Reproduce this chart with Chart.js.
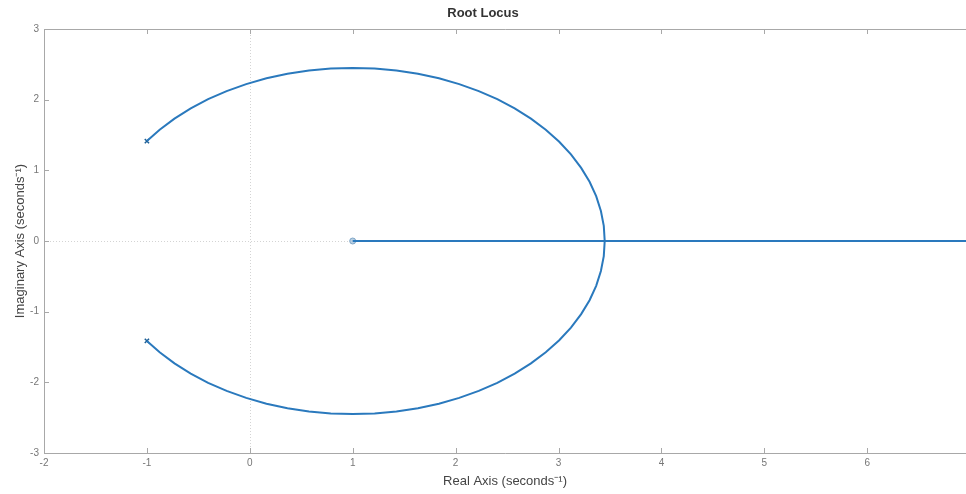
<!DOCTYPE html>
<html>
<head>
<meta charset="utf-8">
<script src="https://cdn.jsdelivr.net/npm/chart.js@4/dist/chart.umd.min.js"></script>
<style>
  html, body { margin: 0; padding: 0; background: #ffffff; }
  canvas { display: block; }
</style>
</head>
<body>
<canvas id="locus" width="966" height="494"></canvas>
<script>
// Upper branch: from the pole at -1+1.414j round to the break-in point on the real axis
const arcReal = [-1.000, -0.876, -0.732, -0.574, -0.405, -0.225, -0.035, 0.162, 0.366, 0.575, 0.787,
                 1.000, 1.213, 1.425, 1.634, 1.838, 2.035, 2.225, 2.405, 2.574, 2.732, 2.876,
                 3.007, 3.121, 3.220, 3.302, 3.366, 3.412, 3.440, 3.449];
const arcImagUpper = [1.414, 1.574, 1.732, 1.876, 2.007, 2.121, 2.220, 2.302, 2.366, 2.412, 2.440,
                      2.449, 2.440, 2.412, 2.366, 2.302, 2.220, 2.121, 2.007, 1.876, 1.732, 1.574,
                      1.405, 1.225, 1.035, 0.838, 0.634, 0.425, 0.214, 0.000];
// Lower branch: conjugate of the upper one
const arcImagLower = [-1.414, -1.574, -1.732, -1.876, -2.007, -2.121, -2.220, -2.302, -2.366, -2.412, -2.440,
                      -2.449, -2.440, -2.412, -2.366, -2.302, -2.220, -2.121, -2.007, -1.876, -1.732, -1.574,
                      -1.405, -1.225, -1.035, -0.838, -0.634, -0.425, -0.214, 0.000];
// Real-axis branches: towards the zero at 1 and out to infinity
const axisReal = [1.000, 3.449, 8.000];
const axisImag = [0, 0, 0];

// Open-loop poles and zero
const poleReal = [-1, -1];
const poleImag = [1.414, -1.414];
const zeroReal = [1];
const zeroImag = [0];

// Axis ticks
const xTickValues = [-2, -1, 0, 1, 2, 3, 4, 5, 6];
const yTickValues = [-3, -2, -1, 0, 1, 2, 3];

const toPoints = (xs, ys) => xs.map((x, i) => ({ x: x, y: ys[i] }));

const LOCUS_BLUE = '#2a79bd';

// White background, dotted zero lines, box outline and inward tick marks
const axesFrame = {
  id: 'axesFrame',
  beforeDraw(chart) {
    const ctx = chart.ctx;
    ctx.save();
    ctx.fillStyle = '#ffffff';
    ctx.fillRect(0, 0, chart.width, chart.height);
    ctx.restore();
  },
  beforeDatasetsDraw(chart) {
    const { ctx, chartArea: a, scales: { x, y } } = chart;
    ctx.save();
    ctx.strokeStyle = '#d4d4d4';
    ctx.lineWidth = 1;
    ctx.setLineDash([1, 2]);
    const px = Math.round(x.getPixelForValue(0)) + 0.5;
    const py = Math.round(y.getPixelForValue(0)) + 0.5;
    ctx.beginPath();
    ctx.moveTo(px, a.top); ctx.lineTo(px, a.bottom);
    ctx.moveTo(a.left, py); ctx.lineTo(a.right, py);
    ctx.stroke();
    ctx.restore();
  },
  afterDatasetsDraw(chart) {
    const { ctx, chartArea: a, scales: { x, y } } = chart;
    const tl = 5;
    ctx.save();
    ctx.strokeStyle = '#a8a8a8';
    ctx.lineWidth = 1;
    ctx.beginPath();
    ctx.rect(Math.round(a.left) + 0.5, Math.round(a.top) + 0.5,
             Math.round(a.right - a.left) + 4, Math.round(a.bottom - a.top));
    ctx.stroke();
    ctx.beginPath();
    xTickValues.forEach(v => {
      const px = Math.round(x.getPixelForValue(v)) + 0.5;
      if (px < a.left - 1 || px > a.right + 1) return;
      ctx.moveTo(px, a.bottom); ctx.lineTo(px, a.bottom - tl);
      ctx.moveTo(px, a.top); ctx.lineTo(px, a.top + tl);
    });
    yTickValues.forEach(v => {
      const py = Math.round(y.getPixelForValue(v)) + 0.5;
      ctx.moveTo(a.left, py); ctx.lineTo(a.left + tl, py);
    });
    ctx.stroke();
    ctx.restore();
  }
};

const tickFont = { family: 'Liberation Sans, Arial, sans-serif', size: 10 };
const titleFont = { family: 'Liberation Sans, Arial, sans-serif', size: 13 };

new Chart(document.getElementById('locus'), {
  type: 'scatter',
  data: {
    datasets: [
      {
        data: toPoints(arcReal, arcImagUpper),
        showLine: true, borderColor: LOCUS_BLUE, borderWidth: 2,
        pointRadius: 0, tension: 0, fill: false
      },
      {
        data: toPoints(arcReal, arcImagLower),
        showLine: true, borderColor: LOCUS_BLUE, borderWidth: 2,
        pointRadius: 0, tension: 0, fill: false
      },
      {
        data: toPoints(axisReal, axisImag),
        showLine: true, borderColor: LOCUS_BLUE, borderWidth: 2,
        pointRadius: 0, tension: 0, fill: false
      },
      {
        data: toPoints(poleReal, poleImag),
        showLine: false, pointStyle: 'crossRot', pointRadius: 3,
        borderColor: '#1d5f96', borderWidth: 1.5
      },
      {
        data: toPoints(zeroReal, zeroImag),
        showLine: false, pointStyle: 'circle', pointRadius: 3,
        borderColor: '#7fa6c8', backgroundColor: '#b9cfe2', borderWidth: 1
      }
    ]
  },
  options: {
    responsive: false,
    animation: false,
    devicePixelRatio: 1,
    layout: { autoPadding: false, padding: { left: 0, right: 0, top: 0, bottom: 0 } },
    plugins: {
      legend: { display: false },
      tooltip: { enabled: false },
      title: {
        display: true,
        text: 'Root Locus',
        color: '#333333',
        font: { family: 'Liberation Sans, Arial, sans-serif', size: 13, weight: 'bold' },
        padding: { top: 6, bottom: 7.4 }
      }
    },
    scales: {
      x: {
        type: 'linear',
        min: -2,
        max: 6.96,
        afterBuildTicks: s => { s.ticks = xTickValues.map(v => ({ value: v })); },
        afterFit: s => { s.height = 41; s.paddingRight = 0; },
        grid: { display: false, drawTicks: false },
        border: { display: false },
        ticks: { color: '#777777', font: tickFont, padding: 4, maxRotation: 0, autoSkip: false,
                 callback: v => String(v) },
        title: { display: true, text: 'Real Axis (seconds\u207B\u00B9)', color: '#444444',
                 font: titleFont, padding: { top: 0, bottom: 5.2 } }
      },
      y: {
        type: 'linear',
        min: -3,
        max: 3,
        afterBuildTicks: s => { s.ticks = yTickValues.map(v => ({ value: v })); },
        afterFit: s => { s.width = 44; },
        grid: { display: false, drawTicks: false },
        border: { display: false },
        ticks: { color: '#777777', font: tickFont, padding: 5, autoSkip: false,
                 callback: v => String(v) },
        title: { display: true, text: 'Imaginary Axis (seconds\u207B\u00B9)', color: '#444444',
                 font: titleFont, padding: { top: 12.2, bottom: 0 } }
      }
    }
  },
  plugins: [axesFrame]
});
</script>
</body>
</html>
